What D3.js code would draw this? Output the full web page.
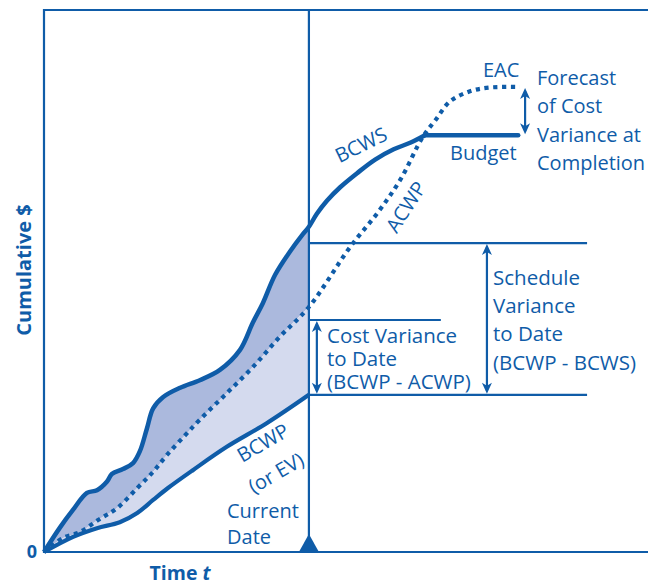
<!DOCTYPE html>
<html>
<head>
<meta charset="utf-8">
<script src="https://cdn.jsdelivr.net/npm/d3@7"></script>
<style>
  body { margin: 0; background: #fff; }
  svg { display: block; font-family: "Open Sans", sans-serif; }
</style>
</head>
<body>
<svg id="ev-chart" width="648" height="584"></svg>
<script>
// cumulative $ (0-100) against time (0-114), current date at t = 50
var bcws = [[0,0],[3,4.5],[5.5,7.8],[8.1,10.9],[10,11.4],[11.9,13],[12.8,14.4],[14.9,15.3],[16.8,16.4],
  [18.1,18.6],[19.4,22.7],[20.6,26.5],[22.5,28.6],[25.7,30.3],[29.4,31.7],[33.2,33.6],[37,37.3],
  [39.4,42.3],[41.3,45.9],[43.6,51.1],[46.4,55.4],[48.9,58.7],[50,60],[51.5,62.4],[53.4,64.8],
  [55.9,67.3],[59.1,69.9],[62.5,72.4],[66,74.3],[69.1,75.5],[71.9,76.9]];
var budget = [[71.9,76.9],[89.5,76.9]];
var acwp = [[0,0],[3.6,2.6],[6.8,3.7],[10.2,5.9],[13.8,8.1],[17.6,11.8],[20.6,14.8],[23.2,17.9],
  [26.5,21.4],[29.4,24.4],[34.5,29.3],[39.4,34.1],[44.5,39.7],[50,45.2],[57.8,56.3],[62.9,62.5],
  [67.2,68.6],[71.5,76.6],[73.9,79.7],[76.6,83.1],[80.4,85],[84.2,85.7],[89.8,85.8]];
var bcwp = [[0,0],[5.5,2.8],[10,4.4],[14.3,5.5],[17.6,7.2],[20.6,9.6],[23.4,11.8],[28.1,15.1],
  [34.5,19.4],[42.1,23.8],[50,29]];

var currentDate = 50;
var levels = { bcws: 57, acwp: 42.8, bcwp: 29, budget: 76.9, eac: 85.8 };

var svg = d3.select("#ev-chart");
var blue = "#0f5ca8";

var x = d3.scaleLinear().domain([0, 114]).range([44, 648]);
var y = d3.scaleLinear().domain([0, 100]).range([552, 10]);

var line = d3.line()
    .x(function (d) { return x(d[0]); })
    .y(function (d) { return y(d[1]); })
    .curve(d3.curveCatmullRom);

function upTo(data, t) {
    return data.filter(function (d) { return d[0] <= t; });
}

function band(upper, lower) {
    var back = lower.slice().reverse();
    return line(upper) + line(back).replace(/^M/, "L") + "Z";
}

// shaded variance bands up to the current date
svg.append("path")
    .attr("d", band(upTo(bcws, currentDate), upTo(acwp, currentDate)))
    .attr("fill", "#abb9dd");
svg.append("path")
    .attr("d", band(upTo(acwp, currentDate), upTo(bcwp, currentDate)))
    .attr("fill", "#d4daee");

// frame
svg.append("path")
    .attr("d", "M" + x(114) + "," + y(100) + "H" + x(0) + "V" + y(0) + "H" + x(114))
    .attr("fill", "none").attr("stroke", blue).attr("stroke-width", 2.2);
svg.append("line")
    .attr("x1", x(currentDate)).attr("x2", x(currentDate))
    .attr("y1", y(100)).attr("y2", y(0))
    .attr("stroke", blue).attr("stroke-width", 2.2);

// reference lines
function hline(v, t0, t1) {
    svg.append("line")
        .attr("x1", x(t0)).attr("x2", x(t1))
        .attr("y1", y(v)).attr("y2", y(v))
        .attr("stroke", blue).attr("stroke-width", 2.2);
}
hline(levels.bcws, currentDate, 102.5);
hline(levels.acwp, currentDate, 74.9);
hline(levels.bcwp, currentDate, 102.5);

// double headed arrows
function head(px, py, dir) {
    var l = 11, w = 5, n = 3;
    return "M" + px + "," + py +
        "L" + (px - w) + "," + (py + dir * l) +
        "L" + px + "," + (py + dir * (l - n)) +
        "L" + (px + w) + "," + (py + dir * l) + "Z";
}
function arrow(t, v0, v1) {
    var px = x(t), top = y(v1), bot = y(v0);
    svg.append("line")
        .attr("x1", px).attr("x2", px)
        .attr("y1", top + 4).attr("y2", bot - 4)
        .attr("stroke", blue).attr("stroke-width", 2.2);
    svg.append("path").attr("d", head(px, top + 1, 1)).attr("fill", blue);
    svg.append("path").attr("d", head(px, bot - 1, -1)).attr("fill", blue);
}
arrow(83.6, levels.bcwp, levels.bcws);
arrow(51.5, levels.bcwp, levels.acwp);
arrow(90.8, levels.budget, levels.eac);

// curves
svg.append("path").attr("d", line(bcws))
    .attr("fill", "none").attr("stroke", blue).attr("stroke-width", 4.5);
svg.append("path").attr("d", line(budget))
    .attr("fill", "none").attr("stroke", blue).attr("stroke-width", 4.5)
    .attr("stroke-linecap", "round");
svg.append("path").attr("d", line(bcwp))
    .attr("fill", "none").attr("stroke", blue).attr("stroke-width", 4.2);
svg.append("path").attr("d", line(acwp))
    .attr("fill", "none").attr("stroke", blue).attr("stroke-width", 4.2)
    .attr("stroke-dasharray", "4.2 4.6");

// current date marker
var cx = x(currentDate), cy = y(0);
svg.append("path")
    .attr("d", "M" + (cx - 10) + "," + cy + "L" + cx + "," + (cy - 18) + "L" + (cx + 10) + "," + cy + "Z")
    .attr("fill", blue);

// labels
function label(lines, px, py, gap, size) {
    var t = svg.append("text")
        .attr("x", px).attr("y", py)
        .attr("fill", blue).attr("font-size", size || 20);
    lines.forEach(function (s, i) {
        t.append("tspan").attr("x", px).attr("y", py + i * gap).text(s);
    });
    return t;
}
function rotated(s, px, py, angle) {
    svg.append("text")
        .attr("transform", "translate(" + px + "," + py + ") rotate(" + angle + ")")
        .attr("text-anchor", "middle").attr("dy", "0.35em")
        .attr("fill", blue).attr("font-size", 20)
        .text(s);
}

label(["EAC"], 483, 77, 0);
label(["Forecast", "of Cost", "Variance at", "Completion"], 537, 85, 28.3);
label(["Budget"], 450, 160, 0);
label(["Schedule", "Variance", "to Date", "(BCWP - BCWS)"], 493, 285, 28.2, 20.5);
label(["Cost Variance", "to Date", "(BCWP - ACWP)"], 327, 343, 23, 20.5);
label(["Current", "Date"], 227, 518, 26);

rotated("BCWS", 361, 145, -26);
rotated("ACWP", 406, 207, -57);
rotated("BCWP", 263, 443, -30);
rotated("(or EV)", 276, 473, -30);

// axis titles
svg.append("text")
    .attr("transform", "translate(31,270) rotate(-90)")
    .attr("text-anchor", "middle")
    .attr("fill", blue).attr("font-size", 20).attr("font-weight", "bold")
    .text("Cumulative $");

var tt = svg.append("text")
    .attr("x", 180).attr("y", 580)
    .attr("text-anchor", "middle")
    .attr("fill", blue).attr("font-size", 19.5).attr("font-weight", "bold")
    .text("Time ");
tt.append("tspan").attr("font-style", "italic").text("t");

svg.append("text")
    .attr("x", 32).attr("y", 558)
    .attr("text-anchor", "middle")
    .attr("fill", blue).attr("font-size", 18).attr("font-weight", "bold")
    .text("0");
</script>
</body>
</html>
